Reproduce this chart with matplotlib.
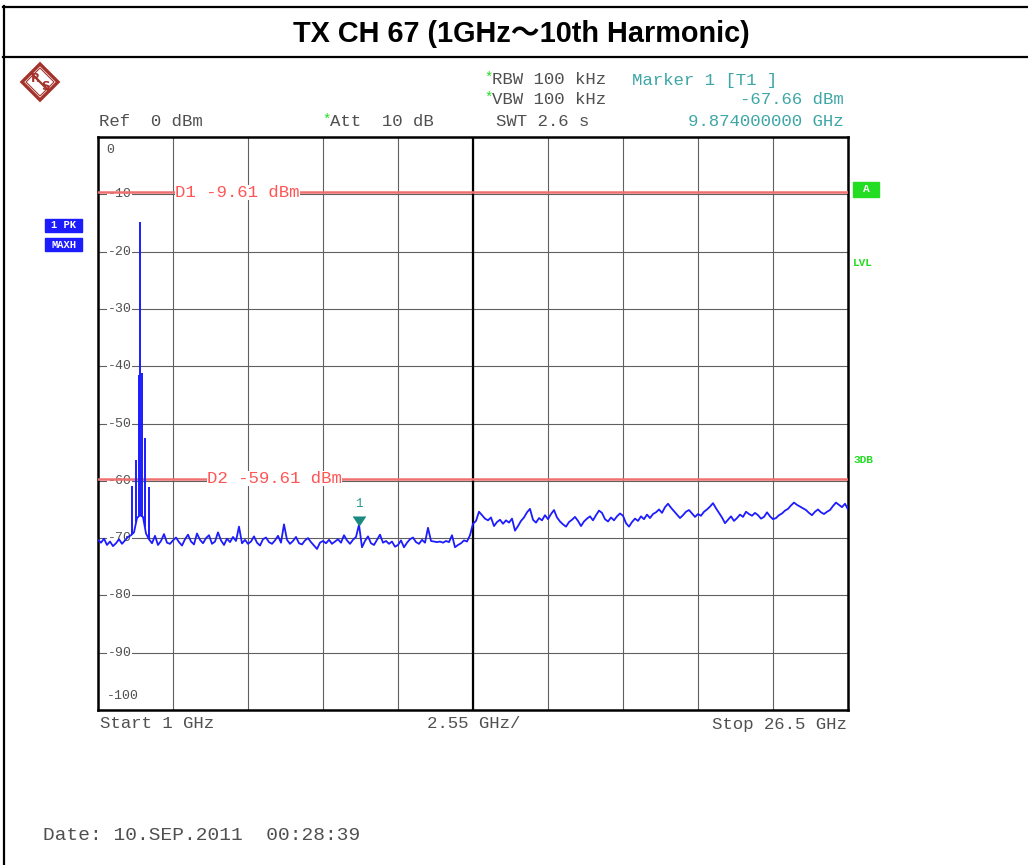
"""
Spectrum plot: TX CH 67, 1 GHz .. 26.5 GHz sweep (max hold trace)
"""
import numpy as np
import matplotlib.pyplot as plt
from matplotlib.patches import Polygon, Rectangle

W, H = 1028, 865

# max hold trace levels (dBm), 251 sweep points from 1 GHz to 26.5 GHz
level = [
    -70.3, -70.8, -70.1, -71.2, -70.6, -71.4, -70.9, -70.2, -71.0, -70.4, -69.8,
    -69.5, -69.0, -66.5, -66.0, -66.3, -69.2, -70.2,
    -70.9, -69.6, -71.2, -70.5, -69.3, -70.8, -71.0, -70.4, -69.9, -70.7, -71.3, -70.2, -69.4,
    -70.6, -71.1, -69.2, -70.3, -70.9, -70.0, -69.5, -71.0, -70.6, -69.0, -70.4, -71.2, -70.1, -70.7, -69.8,
    -70.5, -68.0, -70.9, -70.3, -71.0, -70.6, -69.7, -70.8, -71.3, -70.2, -69.9, -70.7, -71.0, -70.4, -69.6,
    -70.8, -67.6, -70.3, -71.0, -70.5, -69.8, -70.9, -71.1, -70.4, -70.0, -70.7, -71.3, -71.9, -70.8, -70.5,
    -70.9, -70.3, -71.0, -70.6, -70.2, -70.8, -69.5, -70.4, -71.0, -70.3, -69.8, -67.66, -71.6, -70.5, -69.7,
    -70.9, -71.2, -70.3, -69.4, -70.8, -70.5, -71.0, -70.6, -71.5, -71.2, -70.4, -71.6, -70.8, -70.2, -69.9,
    -70.7, -71.0, -70.3, -70.8, -68.2, -70.5, -70.6, -70.7, -70.6, -70.8, -70.5, -70.7, -69.5, -71.6, -71.2,
    -70.9, -70.4, -70.6, -69.5, -67.5,
    # upper half of the span
    -67.0, -65.4, -66.0, -66.6, -66.9, -66.4, -67.9, -67.2, -66.8, -67.5,
    -66.9, -67.3, -66.6, -68.7, -67.9, -67.0, -66.4, -65.5, -64.9, -66.8,
    -67.3, -66.5, -66.9, -66.0, -66.7, -65.8, -65.1, -66.4, -67.1, -67.6,
    -68.0, -67.2, -66.8, -66.3, -67.0, -67.9, -67.1, -66.6, -66.2, -66.9,
    -66.0, -65.2, -65.6, -66.7, -67.1, -66.4, -66.9, -66.2, -65.7, -66.1,
    -67.4, -68.0, -67.2, -66.6, -67.0, -66.2, -66.7, -65.9, -66.5, -65.8,
    -65.5, -65.0, -65.6, -64.6, -64.0, -64.7, -65.3, -65.9, -66.5, -66.0,
    -65.4, -65.1, -65.7, -66.3, -65.8, -66.1, -65.4, -65.0, -64.5, -63.9,
    -64.8, -65.6, -66.4, -67.4, -66.8, -66.2, -67.0, -66.5, -65.9, -66.3,
    -65.4, -65.8, -66.1, -65.6, -66.0, -66.6, -66.3, -65.5, -66.2, -66.7,
    -66.5, -66.0, -65.7, -65.2, -64.9, -64.3, -63.8, -64.2, -64.5, -64.8,
    -65.1, -65.6, -66.0, -65.4, -65.0, -65.5, -65.8, -65.4, -65.1, -64.4,
    -63.8, -64.2, -64.6, -64.0, -65.0,
]
freq = np.linspace(1.0, 26.5, len(level))

# carrier and close-in spurs
spike_freq = [2.16, 2.30, 2.40, 2.44, 2.48, 2.59, 2.73]
spike_peak = [-60.9, -56.4, -41.5, -14.8, -41.2, -52.5, -61.0]

d1_level = -9.61
d2_level = -59.61
marker_freq = 9.874
marker_level = -67.66

f_start, f_stop, f_div = 1.0, 26.5, 2.55
y_ticks = list(range(-10, -100, -10))

mono = 'Liberation Mono'
txt_gray = '#505050'
teal = '#3fa6a6'
green = '#22dd22'
blue = '#1c1cff'
red = '#f07070'

fig = plt.figure(figsize=(W / 100, H / 100), dpi=100)

# page overlay in pixel units
pg = fig.add_axes([0, 0, 1, 1])
pg.set_xlim(0, W)
pg.set_ylim(H, 0)
pg.axis('off')

pg.plot([3, W], [7, 7], color='black', lw=1.6)
pg.plot([3, W], [57, 57], color='black', lw=1.6)
pg.plot([4, 4], [6, H], color='black', lw=1.6)
pg.text(521, 34, 'TX CH 67 (1GHz～10th Harmonic)', ha='center', va='center',
        fontsize=20.8, fontweight='bold', family=['Liberation Sans', 'Noto Sans CJK JP'])

# R&S logo
logo_c = '#a3322c'
pg.add_patch(Polygon([(40, 64), (58, 82), (40, 100), (22, 82)], closed=True,
                     fill=False, edgecolor=logo_c, lw=2.4))
pg.add_patch(Polygon([(40, 68), (54, 82), (40, 96), (26, 82)], closed=True,
                     fill=False, edgecolor=logo_c, lw=0.8))
pg.plot([31, 49], [73, 91], color=logo_c, lw=1.6)
pg.text(35, 78, 'R', color=logo_c, fontsize=8.5, fontweight='bold', ha='center', va='center')
pg.text(45, 87, 'S', color=logo_c, fontsize=8.5, fontweight='bold', ha='center', va='center')


def mtext(x, y, s, **kw):
    kw.setdefault('color', txt_gray)
    kw.setdefault('fontsize', 12.5)
    pg.text(x, y, s, family=mono, va='center', **kw)


# header
mtext(484, 78, '*', color=green, fontsize=10)
mtext(492, 80, 'RBW 100 kHz')
mtext(484, 98, '*', color=green, fontsize=10)
mtext(492, 100, 'VBW 100 kHz')
mtext(632, 80, 'Marker 1 [T1 ]', color=teal)
mtext(844, 100, f'{marker_level:.2f} dBm', color=teal, ha='right')
mtext(844, 122, f'{marker_freq:.9f} GHz', color=teal, ha='right')
mtext(99, 122, 'Ref  0 dBm')
mtext(322, 120, '*', color=green, fontsize=10)
mtext(330, 122, 'Att  10 dB')
mtext(496, 122, 'SWT 2.6 s')
mtext(139, 151, 'Offset  2 dB')

# side annotations
pg.add_patch(Rectangle((45, 219), 37, 13, color=blue))
pg.add_patch(Rectangle((45, 238), 37, 13, color=blue))
pg.text(63.5, 225.5, '1 PK', family=mono, fontsize=7.5, fontweight='bold',
        color='white', ha='center', va='center')
pg.text(63.5, 244.5, 'MAXH', family=mono, fontsize=7.5, fontweight='bold',
        color='white', ha='center', va='center')
pg.add_patch(Rectangle((853, 182), 26, 15, color=green))
pg.text(866, 189.5, 'A', family=mono, fontsize=8, fontweight='bold',
        color='white', ha='center', va='center')
mtext(853, 263, 'LVL', color=green, fontsize=8, fontweight='bold')
mtext(853, 460, '3DB', color=green, fontsize=8, fontweight='bold')

# footer
mtext(100, 724, 'Start 1 GHz')
mtext(474, 724, f'{f_div:.2f} GHz/', ha='center')
mtext(847, 724, 'Stop 26.5 GHz', ha='right')
mtext(43, 836, 'Date: 10.SEP.2011  00:28:39', fontsize=14)

# analyzer screen
ax = fig.add_axes([98 / W, 1 - 710 / H, 750 / W, 573 / H])
ax.set_xlim(f_start, f_stop)
ax.set_ylim(-100, 0)
ax.set_xticks(f_start + f_div * np.arange(11))
ax.set_yticks(range(-100, 1, 10))
ax.tick_params(length=0, labelbottom=False, labelleft=False)
ax.grid(True, color='#606060', lw=0.8)
ax.set_axisbelow(True)
for s in ax.spines.values():
    s.set_linewidth(1.8)
    s.set_color('black')
ax.axvline((f_start + f_stop) / 2, color='black', lw=1.6, zorder=1)

ytr = ax.get_yaxis_transform()
for v in y_ticks:
    ax.text(0.013, v, f'{v}', transform=ytr, family=mono, fontsize=9.5, color=txt_gray,
            va='center', zorder=2, bbox=dict(facecolor='white', edgecolor='none', pad=0.5))
ax.text(0.012, -97.5, '-100', transform=ytr, family=mono, fontsize=9.5, color=txt_gray, va='center')
ax.text(0.011, -2.3, '0', transform=ytr, family=mono, fontsize=9.5, color=txt_gray, va='center')

# display lines
ax.axhline(d1_level, color=red, lw=1.8, zorder=3)
ax.axhline(d2_level, color=red, lw=1.8, zorder=3)
ax.text(0.103, d1_level, f'D1 {d1_level:.2f} dBm', transform=ytr, family=mono, fontsize=12.5,
        color='#ff5555', va='center', zorder=4, bbox=dict(facecolor='white', edgecolor='none', pad=0))
ax.text(0.145, d2_level, f'D2 {d2_level:.2f} dBm', transform=ytr, family=mono, fontsize=12.5,
        color='#ff5555', va='center', zorder=4, bbox=dict(facecolor='white', edgecolor='none', pad=0))

# trace
ax.plot(freq, level, color=blue, lw=1.3, zorder=5)
spike_base = np.interp(spike_freq, freq, level)
ax.vlines(spike_freq, spike_base, spike_peak, color=blue, lw=1.4, zorder=5)

# marker 1
ax.plot([marker_freq], [marker_level], marker=7, ms=9, color='#1a8a80', zorder=6)
ax.annotate('1', (marker_freq, marker_level), xytext=(0, 15), textcoords='offset points',
            ha='center', va='center', family=mono, fontsize=9, color='#2a9a90', zorder=6)

plt.savefig('out.png', dpi=100)
